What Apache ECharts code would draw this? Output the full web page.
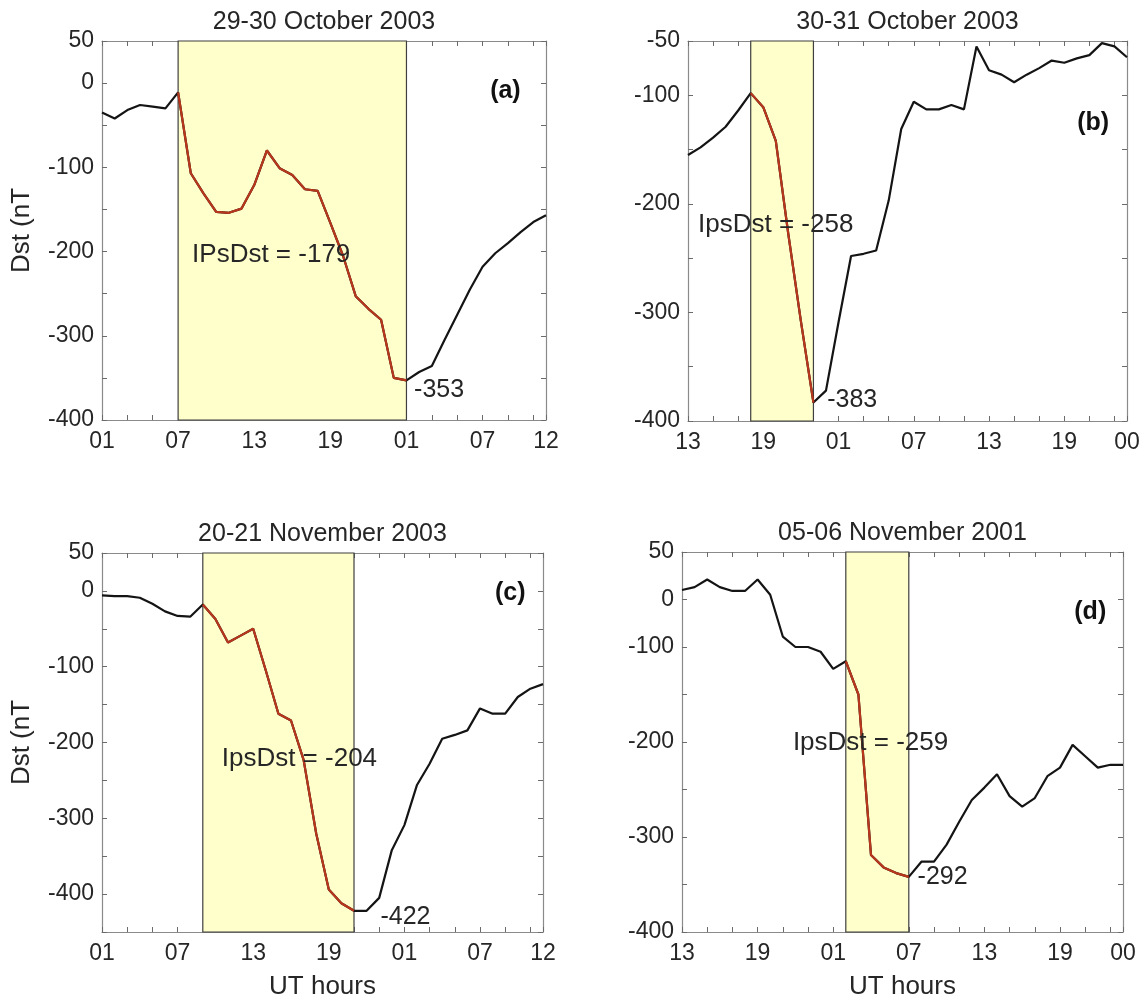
<!DOCTYPE html>
<html>
<head>
<meta charset="utf-8">
<script src="https://cdn.jsdelivr.net/npm/echarts@6/dist/echarts.min.js"></script>
<style>
  html, body { margin: 0; padding: 0; background: #ffffff; }
  #chart { width: 1144px; height: 1003px; }
</style>
</head>
<body>
<div id="chart"></div>
<script>
// ---- hourly UT labels (36 hourly samples per storm window) ----
const hoursFrom01 = ['01','02','03','04','05','06','07','08','09','10','11','12','13','14','15','16','17','18','19','20','21','22','23','00',
                     '01','02','03','04','05','06','07','08','09','10','11','12'];
const hoursFrom13 = ['13','14','15','16','17','18','19','20','21','22','23','00','01','02','03','04','05','06','07','08','09','10','11','12',
                     '13','14','15','16','17','18','19','20','21','22','23','00'];

// ---- hourly Dst values (nT) ----
const dstOct29 = [-35,-42,-32,-26,-28,-30,-11,-107,-131,-153,-154,-149,-121,-80,-101,-109,-126,-128,-166,-205,-253,-268,-281,-350,
                  -353,-343,-336,-305,-275,-245,-218,-202,-190,-177,-165,-157];
const dstOct30 = [-155,-148,-139,-129,-114,-98,-111,-142,-228,-308,-383,-372,-309,-248,-246,-243,-197,-131,-106,-113,-113,-109,-113,-55,
                  -77,-81,-88,-81,-75,-68,-70,-66,-63,-52,-55,-65];
const dstNov20 = [-6,-7,-7,-9,-17,-27,-33,-34,-18,-37,-68,-59,-50,-105,-162,-171,-223,-320,-394,-412,-422,-422,-405,-342,
                  -309,-256,-228,-195,-190,-184,-155,-162,-162,-140,-129,-123];
const dstNov05 = [10,13,21,13,9,9,21,5,-39,-50,-50,-55,-73,-65,-100,-269,-282,-288,-292,-276,-276,-258,-234,-211,
                  -198,-184,-207,-218,-209,-186,-177,-153,-165,-177,-174,-174];

// main-phase windows (first and last hourly index)
const phaseOct29 = [6, 24];
const phaseOct30 = [5, 10];
const phaseNov20 = [8, 20];
const phaseNov05 = [13, 18];

// IpsDst values for each storm
const ipsDstValues = [-179, -258, -204, -259];

// panel titles and tags
const panelTitles = ['29-30 October 2003', '30-31 October 2003', '20-21 November 2003', '05-06 November 2001'];
const panelTags = ['(a)', '(b)', '(c)', '(d)'];
const ipsPrefixes = ['IPsDst = ', 'IpsDst = ', 'IpsDst = ', 'IpsDst = '];

// x tick positions (hour index) and labelled positions
const xTickHours = [0,2,4,6,8,10,12,14,16,18,20,22,24,26,28,30,32,34,35];
const xLabelHours = [0,6,12,18,24,30,35];

// y tick labels: value positions and the text drawn there
const yLabelValsA = [50, 0, -100, -200, -300, -400];
const yLabelValsB = [-50, -100, -200, -300, -400];
const yLabelValsC = [50, 0, -100, -200, -300, -400];
const yLabelValsD = [50, 0, -50, -150, -250, -350];
const yLabelTextA = ['50', '0', '-100', '-200', '-300', '-400'];
const yLabelTextB = ['-50', '-100', '-200', '-300', '-400'];
const yLabelTextC = ['50', '0', '-100', '-200', '-300', '-400'];
const yLabelTextD = ['50', '0', '-100', '-200', '-300', '-400'];

// ---- layout ----
const FONT = '"Liberation Sans", Arial, Helvetica, sans-serif';
const TEXT = '#262626';
const grids = [
  { left: 102, top: 41,  width: 444, height: 379 },
  { left: 688, top: 41,  width: 439, height: 380 },
  { left: 102, top: 553, width: 441, height: 379 },
  { left: 682, top: 552, width: 441, height: 380 }
];
const yRanges = [[-400, 50], [-400, -50], [-450, 50], [-350, 50]];
// annotation anchors in data coordinates [hour, Dst]
const tagPos  = [[31.8, -9], [32.3, -126], [32.4, -3], [32.4, -13]];
const ipsPos  = [[7.1, -204], [0.8, -219], [9.5, -222], [8.8, -151]];
const peakPos = [[24.6, -364], [11.1, -381], [22.1, -430], [18.7, -292]];
const showYName = [true, false, true, false];
const showXName = [false, false, true, true];

const panels = [
  { hours: hoursFrom01, dst: dstOct29, phase: phaseOct29, yVals: yLabelValsA, yText: yLabelTextA },
  { hours: hoursFrom13, dst: dstOct30, phase: phaseOct30, yVals: yLabelValsB, yText: yLabelTextB },
  { hours: hoursFrom01, dst: dstNov20, phase: phaseNov20, yVals: yLabelValsC, yText: yLabelTextC },
  { hours: hoursFrom13, dst: dstNov05, phase: phaseNov05, yVals: yLabelValsD, yText: yLabelTextD }
];

const chart = echarts.init(document.getElementById('chart'), null, { renderer: 'canvas' });

const option = {
  animation: false,
  backgroundColor: '#ffffff',
  grid: [], xAxis: [], yAxis: [], series: []
};

panels.forEach((p, i) => {
  const g = grids[i];
  const [yMin, yMax] = yRanges[i];
  option.grid.push({ left: g.left, top: g.top, width: g.width, height: g.height, containLabel: false });

  const tickStyle = { show: true, inside: true, length: 5, lineStyle: { color: '#6b6b6b', width: 1 } };
  const lineStyle = { show: true, onZero: false, lineStyle: { color: '#8a8a8a', width: 1.2 } };

  // bottom x axis with hour labels
  option.xAxis.push({
    type: 'value', gridIndex: i, min: 0, max: 35, position: 'bottom',
    axisLine: lineStyle,
    axisTick: Object.assign({}, tickStyle, { customValues: xTickHours }),
    axisLabel: {
      customValues: xLabelHours,
      formatter: (v) => p.hours[Math.round(v)],
      fontFamily: FONT, fontSize: 23, color: TEXT, margin: 10
    },
    splitLine: { show: false }
  });
  // top x axis (mirrored ticks)
  option.xAxis.push({
    type: 'value', gridIndex: i, min: 0, max: 35, position: 'top',
    axisLine: lineStyle,
    axisTick: Object.assign({}, tickStyle, { customValues: xTickHours }),
    axisLabel: { show: false },
    splitLine: { show: false }
  });
  // left y axis
  option.yAxis.push({
    type: 'value', gridIndex: i, min: yMin, max: yMax, interval: 50, position: 'left',
    axisLine: lineStyle,
    axisTick: tickStyle,
    axisLabel: {
      customValues: p.yVals,
      formatter: (v) => {
        const k = p.yVals.indexOf(v);
        return k >= 0 ? p.yText[k] : '';
      },
      fontFamily: FONT, fontSize: 23, color: TEXT, margin: 8
    },
    splitLine: { show: false }
  });
  // right y axis (mirrored ticks)
  option.yAxis.push({
    type: 'value', gridIndex: i, min: yMin, max: yMax, interval: 50, position: 'right',
    axisLine: lineStyle,
    axisTick: tickStyle,
    axisLabel: { show: false },
    splitLine: { show: false }
  });

  const xi = i * 2, yi = i * 2;
  const full = p.dst.map((v, h) => [h, v]);
  const main = p.dst.map((v, h) => [h, v]).filter(d => d[0] >= p.phase[0] && d[0] <= p.phase[1]);

  option.series.push({
    type: 'line', xAxisIndex: xi, yAxisIndex: yi, z: 3,
    data: full, symbol: 'none', silent: true,
    lineStyle: { color: '#141414', width: 2.2 },
    markArea: {
      silent: true,
      itemStyle: { color: '#ffffcc', borderColor: '#3f3f3f', borderWidth: 1.2 },
      data: [[{ xAxis: p.phase[0] }, { xAxis: p.phase[1] }]]
    }
  });
  option.series.push({
    type: 'line', xAxisIndex: xi, yAxisIndex: yi, z: 4,
    data: main, symbol: 'none', silent: true,
    lineStyle: { color: '#b8361c', width: 2.2 }
  });
});

chart.setOption(option);

// ---- text annotations: titles, axis names, tags, IpsDst and peak values ----
const graphics = [];
panels.forEach((p, i) => {
  const g = grids[i];
  const toPx = (pt) => chart.convertToPixel({ xAxisIndex: i * 2, yAxisIndex: i * 2 }, pt);

  graphics.push({
    type: 'text', silent: true, z: 10,
    style: { text: panelTitles[i], x: g.left + g.width / 2, y: g.top - 19,
             font: '25px ' + FONT, fill: TEXT, align: 'center', verticalAlign: 'middle' }
  });
  if (showYName[i]) {
    graphics.push({
      type: 'text', silent: true, z: 10,
      x: 22, y: g.top + g.height / 2, rotation: Math.PI / 2,
      style: { text: 'Dst (nT', x: 0, y: 0,
               font: '26px ' + FONT, fill: TEXT, align: 'center', verticalAlign: 'middle' }
    });
  }
  if (showXName[i]) {
    graphics.push({
      type: 'text', silent: true, z: 10,
      style: { text: 'UT hours', x: g.left + g.width / 2, y: g.top + g.height + 55,
               font: '26px ' + FONT, fill: TEXT, align: 'center', verticalAlign: 'middle' }
    });
  }
  const tp = toPx(tagPos[i]);
  graphics.push({
    type: 'text', silent: true, z: 10,
    style: { text: panelTags[i], x: tp[0], y: tp[1],
             font: 'bold 25px ' + FONT, fill: '#111', align: 'center', verticalAlign: 'middle' }
  });
  const ip = toPx(ipsPos[i]);
  graphics.push({
    type: 'text', silent: true, z: 10,
    style: { text: ipsPrefixes[i] + ipsDstValues[i], x: ip[0], y: ip[1],
             font: '26px ' + FONT, fill: TEXT, align: 'left', verticalAlign: 'middle' }
  });
  const pk = toPx(peakPos[i]);
  const peak = Math.min.apply(null, p.dst);
  graphics.push({
    type: 'text', silent: true, z: 10,
    style: { text: String(peak), x: pk[0], y: pk[1],
             font: '25px ' + FONT, fill: TEXT, align: 'left', verticalAlign: 'middle' }
  });
});
chart.setOption({ graphic: graphics });
</script>
</body>
</html>
